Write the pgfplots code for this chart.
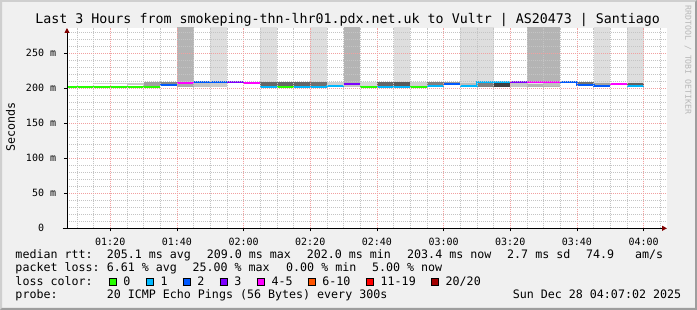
\documentclass[border=0pt]{standalone}
\usepackage{pgfplots}
\pgfplotsset{compat=1.18}
\usepackage{fontspec}
\setmainfont{DejaVu Sans Mono}
\setmonofont{DejaVu Sans Mono}
\usetikzlibrary{arrows.meta}
\definecolor{bgc}{HTML}{F0F0F0}
\definecolor{shadea}{HTML}{CFCFCF}
\definecolor{shadeb}{HTML}{9E9E9E}
\definecolor{mgridc}{HTML}{F2A0A0}
\definecolor{gridc}{HTML}{C4C4C4}
\definecolor{arrowc}{HTML}{800000}
\definecolor{lc0}{HTML}{26FF00}
\definecolor{lc1}{HTML}{00B8FF}
\definecolor{lc2}{HTML}{0059FF}
\definecolor{lc3}{HTML}{7E00FF}
\definecolor{lc4}{HTML}{FF00FF}
\definecolor{lc5}{HTML}{FF5500}
\definecolor{lc6}{HTML}{FF0000}
\definecolor{lc7}{HTML}{A10000}
\definecolor{bgdark}{HTML}{B4B4B4}
\definecolor{bglight}{HTML}{DEDEDE}
\definecolor{wmark}{HTML}{B8B8B8}
\newcommand\sq[1]{{\setlength\fboxsep{0pt}\setlength\fboxrule{0.8pt}\fcolorbox{black}{#1}{\rule{0pt}{6.4pt}\rule{6.4pt}{0pt}}}}
\begin{document}
\begin{tikzpicture}
\path[use as bounding box] (0,0) rectangle (697pt,310pt);
\fill[bgc] (0,0) rectangle (697pt,310pt);
\fill[shadea] (0,0) -- (0,310pt) -- (697pt,310pt) -- (695pt,308pt) -- (2pt,308pt) -- (2pt,2pt) -- cycle;
\fill[shadeb] (697pt,310pt) -- (697pt,0) -- (0,0) -- (2pt,2pt) -- (695pt,2pt) -- (695pt,308pt) -- cycle;
\begin{axis}[
  at={(67pt,81.7pt)}, anchor=south west,
  scale only axis, width=600pt, height=200.3pt,
  xmin=67.0333, xmax=247.0333, ymin=0, ymax=286.1,
  axis background/.style={fill=white},
  axis x line*=bottom, axis y line*=left,
  x axis line style={black, line width=0.9pt, shorten <=-4.3pt, -{Triangle[length=5pt,width=5pt,color=arrowc]}},
  y axis line style={black, line width=0.9pt, -{Triangle[length=5pt,width=5pt,color=arrowc]}},
  axis on top,
  no marks,
  unbounded coords=jump,
  xtick={80,100,...,240},
  xticklabels={01:20,01:40,02:00,02:20,02:40,03:00,03:20,03:40,04:00},
  minor xtick={70,75,85,90,95,105,110,115,125,130,135,145,150,155,165,170,175,185,190,195,205,210,215,225,230,235,245},
  ytick={0,50,...,250},
  yticklabels={0\phantom{mm},50 m,100 m,150 m,200 m,250 m},
  minor ytick={10,20,30,40,60,70,80,90,110,120,130,140,160,170,180,190,210,220,230,240,260,270,280},
  grid=both,
  major grid style={draw=mgridc, dash pattern=on 1pt off 1pt, line width=0.7pt},
  minor grid style={draw=gridc, dash pattern=on 1pt off 1pt, line width=0.7pt},
  tick align=outside,
  major tick length=3pt, minor tick length=0pt,
  every tick/.style={black, line width=0.7pt},
  xticklabel style={font=\fontsize{10}{12}\selectfont, anchor=north, inner sep=0pt, yshift=-6.5pt},
  yticklabel style={font=\fontsize{10}{12}\selectfont, anchor=east, inner sep=0pt, xshift=-7.7pt},
]
% full-height gray bars
\addplot[fill=bgdark, draw=none] coordinates {(100,202) (105,202) (105,290) (100,290)};
\addplot[fill=bgdark, draw=none] coordinates {(150,202) (155,202) (155,290) (150,290)};
\addplot[fill=bgdark, draw=none] coordinates {(205,202) (215,202) (215,290) (205,290)};
\addplot[fill=bglight, draw=none] coordinates {(110,202) (115,202) (115,290) (110,290)};
\addplot[fill=bglight, draw=none] coordinates {(125,202) (130,202) (130,290) (125,290)};
\addplot[fill=bglight, draw=none] coordinates {(140,202) (145,202) (145,290) (140,290)};
\addplot[fill=bglight, draw=none] coordinates {(165,202) (170,202) (170,290) (165,290)};
\addplot[fill=bglight, draw=none] coordinates {(185,202) (195,202) (195,290) (185,290)};
\addplot[fill=bglight, draw=none] coordinates {(225,202) (230,202) (230,290) (225,290)};
\addplot[fill=bglight, draw=none] coordinates {(235,202) (240,202) (240,290) (235,290)};
% smoke
\addplot[fill=black!17, draw=none] coordinates {(75,206.5) (85,206.5) (85,208) (75,208)};
\addplot[fill=black!20, draw=none] coordinates {(85,204) (90,204) (90,208) (85,208)};
\addplot[fill=black!37, draw=none] coordinates {(90,203) (95,203) (95,209) (90,209)};
\addplot[fill=black!47, draw=none] coordinates {(95,205.8) (100,205.8) (100,209) (95,209)};
\addplot[fill=black!33, draw=none] coordinates {(100,202.2) (105,202.2) (105,207.4) (100,207.4)};
\addplot[fill=black!23, draw=none] coordinates {(105,202.2) (110,202.2) (110,208) (105,208)};
\addplot[fill=black!20, draw=none] coordinates {(110,202.2) (115,202.2) (115,208) (110,208)};
\addplot[fill=black!60, draw=none] coordinates {(125,203) (140,203) (140,209) (125,209)};
\addplot[fill=black!56, draw=none] coordinates {(140,203) (145,203) (145,208.6) (140,208.6)};
\addplot[fill=black!18, draw=none] coordinates {(145,204) (150,204) (150,208.6) (145,208.6)};
\addplot[fill=black!22, draw=none] coordinates {(150,202.3) (155,202.3) (155,205) (150,205)};
\addplot[fill=black!15, draw=none] coordinates {(155,203) (160,203) (160,208.6) (155,208.6)};
\addplot[fill=black!60, draw=none] coordinates {(160,203) (165,203) (165,208.6) (160,208.6)};
\addplot[fill=black!65, draw=none] coordinates {(165,203) (170,203) (170,208.4) (165,208.4)};
\addplot[fill=black!18, draw=none] coordinates {(170,203) (175,203) (175,208.6) (170,208.6)};
\addplot[fill=black!50, draw=none] coordinates {(175,204.2) (180,204.2) (180,208.6) (175,208.6)};
\addplot[fill=black!40, draw=none] coordinates {(180,206.8) (185,206.8) (185,209) (180,209)};
\addplot[fill=black!26, draw=none] coordinates {(185,203.8) (190,203.8) (190,207.5) (185,207.5)};
\addplot[fill=black!50, draw=none] coordinates {(190,202.3) (195,202.3) (195,207.6) (190,207.6)};
\addplot[fill=black!75, draw=none] coordinates {(195,202.3) (200,202.3) (200,207.6) (195,207.6)};
\addplot[fill=black!22, draw=none] coordinates {(200,202) (205,202) (205,208.2) (200,208.2)};
\addplot[fill=black!11, draw=none] coordinates {(205,206) (210,206) (210,208.2) (205,208.2)};
\addplot[fill=black!25, draw=none] coordinates {(210,203) (215,203) (215,208.2) (210,208.2)};
\addplot[fill=black!56, draw=none] coordinates {(220,205.6) (225,205.6) (225,208.6) (220,208.6)};
\addplot[fill=black!37, draw=none] coordinates {(225,203.6) (230,203.6) (230,208) (225,208)};
\addplot[fill=black!62, draw=none] coordinates {(235,204) (240,204) (240,207.6) (235,207.6)};
% median rtt, coloured by loss
\addplot[lc0, line width=2pt, const plot mark left] coordinates {(67.0333,202.0) (95,202.0) (95,nan) (130,202.2) (135,202.2) (135,nan) (155,202.2) (160,202.2) (160,nan) (170,202.2) (175,202.2)};
\addplot[lc1, line width=2pt, const plot mark left] coordinates {(125,202.4) (130,202.4) (130,nan) (135,202.4) (145,203.2) (150,203.2) (150,nan) (160,202.2) (165,202.3) (170,202.3) (170,nan) (175,203.5) (180,203.5) (180,nan) (185,203.0) (190,208.4) (200,208.4) (200,nan) (235,203.4) (240,203.4)};
\addplot[lc2, line width=2pt, const plot mark left] coordinates {(95,204.8) (100,204.8) (100,nan) (105,209.0) (115,209.0) (115,nan) (180,206.0) (185,206.0) (185,nan) (215,209.0) (220,205.0) (225,203.0) (230,203.0)};
\addplot[lc3, line width=2pt, const plot mark left] coordinates {(115,209.0) (120,209.0) (120,nan) (150,205.6) (155,205.6) (155,nan) (200,209.0) (205,209.0)};
\addplot[lc4, line width=2pt, const plot mark left] coordinates {(100,208.2) (105,208.2) (105,nan) (120,208.2) (125,208.2) (125,nan) (205,209.0) (215,209.0) (215,nan) (230,206.0) (235,206.0)};
\end{axis}
\node[anchor=base, inner sep=0pt, font=\fontsize{13.3}{15}\selectfont] at (347.7pt,286pt) {Last 3 Hours from smokeping-thn-lhr01.pdx.net.uk to Vultr | AS20473 | Santiago};
\node[rotate=90, anchor=base, inner sep=0pt, font=\fontsize{11.65}{14}\selectfont] at (15pt,182.7pt) {Seconds};
\node[rotate=-90, anchor=base, inner sep=0pt, text=wmark, font=\fontsize{8.2}{10}\selectfont] at (685.3pt,250pt) {RRDTOOL / TOBI OETIKER};
\begin{scope}[every node/.style={anchor=base west, inner sep=0pt, font=\fontsize{11.65}{14}\selectfont}]
\node at (15.3pt,51.7pt) {median rtt:};
\node at (106.6pt,51.7pt) {205.1 ms avg};
\node at (206.6pt,51.7pt) {209.0 ms max};
\node at (306.6pt,51.7pt) {202.0 ms min};
\node at (407pt,51.7pt) {203.4 ms now};
\node at (507pt,51.7pt) {2.7 ms sd};
\node at (586pt,51.7pt) {74.9};
\node at (635pt,51.7pt) {am/s};
\node at (15.3pt,38.2pt) {packet loss:};
\node at (106.6pt,38.2pt) {6.61 \% avg};
\node at (192.4pt,38.2pt) {25.00 \% max};
\node at (286pt,38.2pt) {0.00 \% min};
\node at (371.8pt,38.2pt) {5.00 \% now};
\node at (15.3pt,24.6pt) {loss color:};
\node at (108.3pt,24.6pt) {\sq{lc0}\hspace{6.8pt}0};
\node at (145.7pt,24.6pt) {\sq{lc1}\hspace{6.8pt}1};
\node at (182.3pt,24.6pt) {\sq{lc2}\hspace{6.8pt}2};
\node at (219.3pt,24.6pt) {\sq{lc3}\hspace{6.8pt}3};
\node at (256.7pt,24.6pt) {\sq{lc4}\hspace{6.8pt}4-5};
\node at (307.3pt,24.6pt) {\sq{lc5}\hspace{6.8pt}6-10};
\node at (365.7pt,24.6pt) {\sq{lc6}\hspace{6.8pt}11-19};
\node at (430.7pt,24.6pt) {\sq{lc7}\hspace{6.8pt}20/20};
\node at (15.3pt,11pt) {probe:};
\node at (106.6pt,11pt) {20 ICMP Echo Pings (56 Bytes) every 300s};
\node at (512.6pt,11pt) {Sun Dec 28 04:07:02 2025};
\end{scope}
\end{tikzpicture}
\end{document}
